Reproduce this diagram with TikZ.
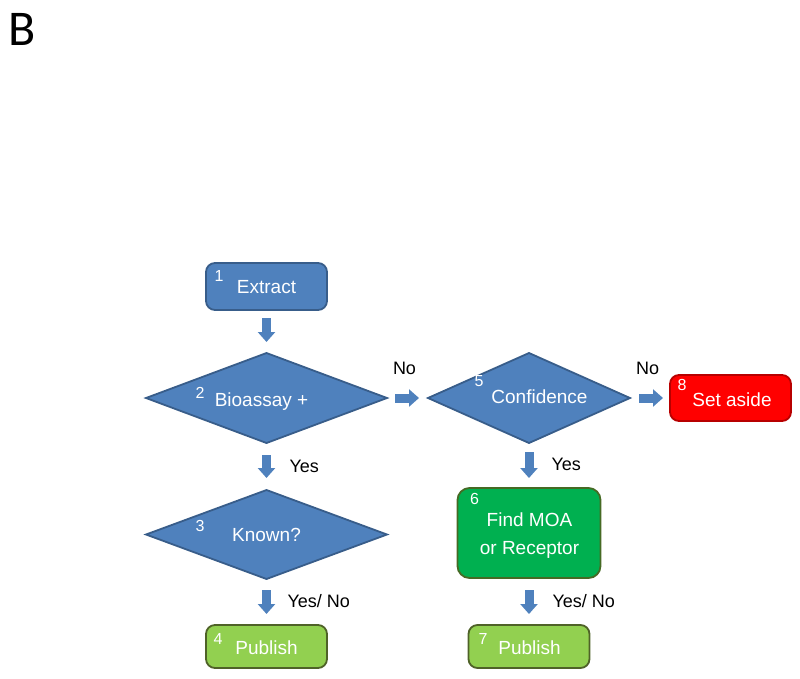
\documentclass[tikz,border=0pt]{standalone}
\usepackage{fontspec}
\setmainfont{Liberation Sans}
\newfontfamily\panelfont{Carlito}
\usetikzlibrary{positioning, arrows.meta, shapes.geometric}
\definecolor{Flow_Blue}{HTML}{4F81BD}
\definecolor{Flow_BlueLine}{HTML}{385D8A}
\definecolor{Flow_Red}{HTML}{FF0000}
\definecolor{Flow_RedLine}{HTML}{B80000}
\definecolor{Flow_Green}{HTML}{00B050}
\definecolor{Flow_GreenLine}{HTML}{466A24}
\definecolor{Flow_Lime}{HTML}{92D050}
\definecolor{Flow_LimeLine}{HTML}{4F6228}

\begin{document}
\begin{tikzpicture}[x=1pt, y=-1pt,
  block/.style={draw=Flow_#1Line, fill=Flow_#1, rounded corners=9pt, line width=1.8pt, minimum width=121pt, minimum height=47pt, inner sep=0pt, outer sep=0pt},
  block/.default={Blue},
  decision/.style={diamond, draw=Flow_BlueLine, fill=Flow_Blue, line width=1.8pt, inner sep=0pt, outer sep=0pt, minimum width=241pt, minimum height=90pt},
  txt/.style={text=white, font=\fontsize{19}{28}\selectfont, inner sep=0pt, align=center},
  num/.style={text=white, font=\fontsize{16}{16}\selectfont, inner sep=0pt},
  lbl/.style={font=\fontsize{18}{18}\selectfont, inner sep=0pt, text depth=0pt},
  barrow/.style={draw=Flow_Blue, line width=9pt, -{Triangle[length=10pt, width=17pt]}},
]
  \useasboundingbox (0,0) rectangle (800,678);

  % Panel letter
  \node[font=\panelfont\fontsize{50}{50}\selectfont, anchor=base west, inner sep=0pt] (panel) at (8,45) {B};

  % Left column
  \node[block] (extract) at (266.5,286.5) {};
  \node[decision, below=43pt of extract] (bio) {};
  \node[decision, below=47pt of bio, minimum height=89pt] (known) {};
  \node[block=Lime, below=46pt of known, minimum height=43pt] (pub4) {};

  % Right column
  \node[decision, right=41pt of bio, minimum width=202pt] (conf) {};
  \node[block=Red, right=40pt of conf, minimum height=46pt] (aside) {};
  \node[block=Green, below=45pt of conf, minimum width=143pt, minimum height=90pt, rounded corners=12pt] (moa) {};
  \node[block=Lime, below=47pt of moa, minimum height=43pt] (pub7) {};

  % Texts
  \node[txt, text depth=0pt] (extractT) at (extract.center) {Extract};
  \node[txt, text depth=0pt, xshift=-5pt, yshift=-1.5pt] (bioT) at (bio.center) {Bioassay +};
  \node[txt, text depth=0pt, yshift=-0.5pt] (knownT) at (known.center) {Known?};
  \node[txt, text depth=0pt, yshift=-1.5pt] (pub4T) at (pub4.center) {Publish};
  \node[txt, text depth=0pt, xshift=10.5pt, yshift=1pt] (confT) at (conf.center) {Confidence};
  \node[txt, text depth=0pt, xshift=1.5pt, yshift=-2pt] (asideT) at (aside.center) {Set aside};
  \node[txt, xshift=0.5pt, yshift=-3pt] (moaT) at (moa.center) {Find MOA\\or Receptor};
  \node[txt, text depth=0pt, xshift=0.5pt, yshift=-1.5pt] (pub7T) at (pub7.center) {Publish};

  % Step numbers
  \node[num, xshift=-47.5pt, yshift=10.5pt] (n1) at (extract.center) {1};
  \node[num, xshift=-66.5pt, yshift=5.5pt] (n2) at (bio.center) {2};
  \node[num, xshift=-66.5pt, yshift=8.5pt] (n3) at (known.center) {3};
  \node[num, xshift=-48.5pt, yshift=7.5pt] (n4) at (pub4.center) {4};
  \node[num, xshift=-50pt, yshift=17pt] (n5) at (conf.center) {5};
  \node[num, xshift=-54.5pt, yshift=34pt] (n6) at (moa.center) {6};
  \node[num, xshift=-46pt, yshift=7.5pt] (n7) at (pub7.center) {7};
  \node[num, xshift=-48.5pt, yshift=13pt] (n8) at (aside.center) {8};

  % Arrows
  \draw[barrow, shorten <=8pt, shorten >=11pt] (extract) -- (bio);
  \draw[barrow, shorten <=12pt, shorten >=12pt] (bio) -- node[lbl, right=18.5pt] {Yes} (known);
  \draw[barrow, shorten <=11pt, shorten >=11pt] (known) -- node[lbl, right=16.5pt, yshift=1.5pt] {Yes/ No} (pub4);
  \draw[barrow, shorten <=8pt, shorten >=9pt] (bio) -- node[lbl, above=19pt, xshift=-3pt] {No} (conf);
  \draw[barrow, shorten <=9pt, shorten >=7pt] (conf) -- node[lbl, above=19pt, xshift=-2.5pt] {No} (aside);
  \draw[barrow, shorten <=9pt, shorten >=10pt] (conf) -- node[lbl, right=18pt, yshift=1pt] {Yes} (moa);
  \draw[barrow, shorten <=12pt, shorten >=11pt] (moa) -- node[lbl, right=19pt, yshift=1pt] {Yes/ No} (pub7);
\end{tikzpicture}
\end{document}
